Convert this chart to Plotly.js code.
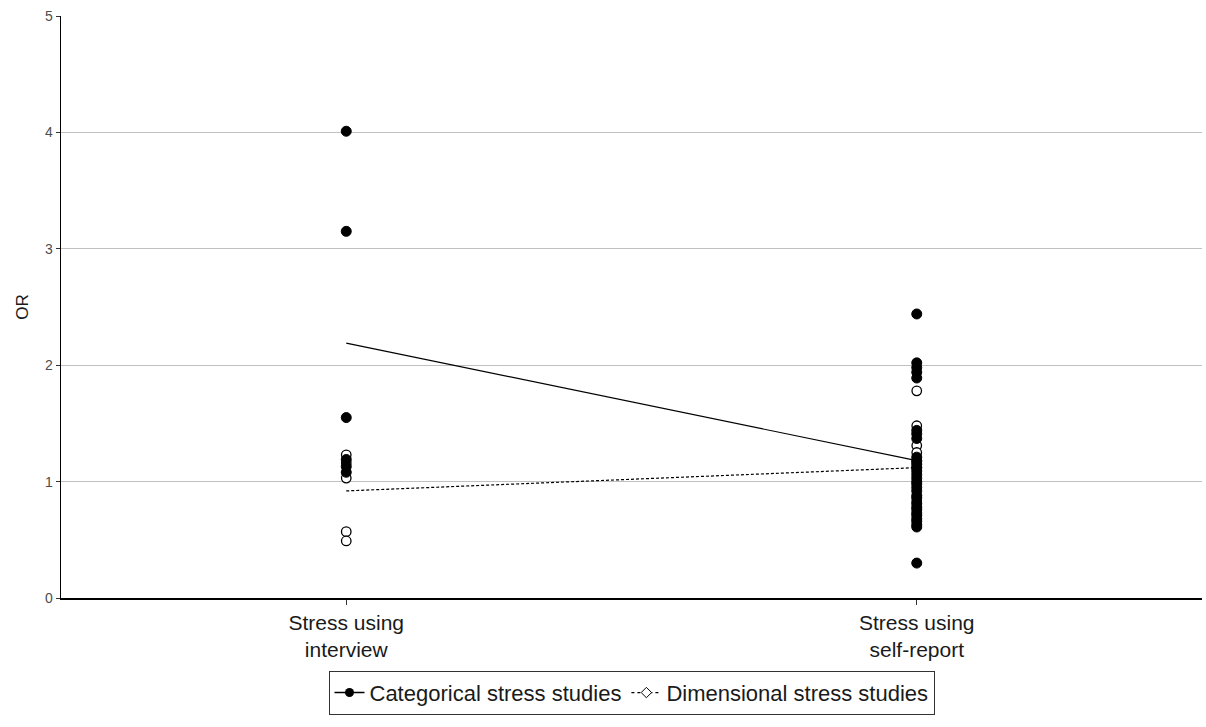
<!DOCTYPE html>
<html>
<head>
<meta charset="utf-8">
<script src="https://cdn.plot.ly/plotly-3.0.1.min.js"></script>
<style>html,body{margin:0;padding:0;background:#fff;}#chart{width:1206px;height:727px;}</style>
</head>
<body>
<div id="chart"></div>
<script>
// Categories (x axis)
const categories = ['Stress using<br>interview', 'Stress using<br>self-report'];

// Individual study ORs, categorical stress studies
const interviewCategorical = [4.01, 3.15, 1.55, 1.19, 1.13, 1.08];
const selfReportCategorical = [2.44, 2.02, 1.98, 1.94, 1.89, 1.44, 1.41, 1.37, 1.21, 1.18, 1.15, 1.12, 1.09, 1.06, 1.03, 1.00, 0.98, 0.95, 0.92, 0.88, 0.86, 0.81, 0.78, 0.76, 0.73, 0.71, 0.68, 0.66, 0.63, 0.61, 0.30];

// Individual study ORs, dimensional stress studies
const interviewDimensional = [1.23, 1.16, 1.03, 0.57, 0.49];
const selfReportDimensional = [1.78, 1.48, 1.31, 1.25, 1.17, 1.12, 0.83];

// Summary lines
const categoricalLine = [2.19, 1.18];
const dimensionalLine = [0.92, 1.12];

const seriesNames = ['Categorical stress studies', 'Dimensional stress studies'];
const yTicks = [0, 1, 2, 3, 4, 5];

function rep(cat, n) { return Array(n).fill(cat); }

const filledMarker = {symbol: 'circle', size: 10, color: '#000000', line: {color: '#000000', width: 1}};
const openMarker = {symbol: 'circle', size: 9.5, color: '#ffffff', line: {color: '#000000', width: 1.3}};

const traces = [
  {x: categories, y: categoricalLine, mode: 'lines', line: {color: '#000', width: 1.2}, showlegend: false, hoverinfo: 'skip'},
  {x: categories, y: dimensionalLine, mode: 'lines', line: {color: '#000', width: 1.2, dash: '3px,2px'}, showlegend: false, hoverinfo: 'skip'},
  {x: rep(categories[0], interviewDimensional.length).concat(rep(categories[1], selfReportDimensional.length)),
   y: interviewDimensional.concat(selfReportDimensional), mode: 'markers', marker: openMarker, showlegend: false},
  {x: rep(categories[0], interviewCategorical.length).concat(rep(categories[1], selfReportCategorical.length)),
   y: interviewCategorical.concat(selfReportCategorical), mode: 'markers', marker: filledMarker, showlegend: false},
  // legend entries
  {x: [null], y: [null], mode: 'lines+markers', name: seriesNames[0], line: {color: '#000', width: 1.5},
   marker: {symbol: 'circle', size: 9, color: '#000'}},
  {x: [null], y: [null], mode: 'lines+markers', name: seriesNames[1], line: {color: '#000', width: 1.2, dash: 'dot'},
   marker: {symbol: 'diamond', size: 8, color: '#fff', line: {color: '#000', width: 1}}}
];

const layout = {
  width: 1206, height: 727,
  margin: {l: 61, r: 4, t: 16, b: 129},
  paper_bgcolor: '#ffffff', plot_bgcolor: '#ffffff',
  font: {family: 'Liberation Sans, Arial, sans-serif', color: '#1a1a1a'},
  xaxis: {
    type: 'category', categoryorder: 'array', categoryarray: categories,
    range: [-0.5, 1.5], showgrid: false, zeroline: false,
    showline: true, linecolor: '#000', linewidth: 1.5,
    ticks: 'outside', ticklen: 5, tickcolor: '#333', tickwidth: 1,
    tickfont: {size: 21, color: '#1a1a1a'}
  },
  yaxis: {
    range: [0, 5], tickvals: yTicks, ticktext: yTicks.map(String),
    showgrid: true, gridcolor: '#c0c0c0', gridwidth: 1, zeroline: false,
    showline: true, linecolor: '#000', linewidth: 1.5,
    ticks: 'outside', ticklen: 4, tickcolor: '#333', tickwidth: 1,
    tickfont: {size: 14, color: '#4d4d4d'},
    title: {text: 'OR', font: {size: 17, color: '#1a1a1a'}, standoff: 12}
  },
  legend: {
    orientation: 'h', x: 0.5, xanchor: 'center', y: -0.125, yanchor: 'top',
    bordercolor: '#333', borderwidth: 1, bgcolor: '#fff',
    font: {size: 22, color: '#1a1a1a'}, itemwidth: 30
  },
  showlegend: true
};

Plotly.newPlot('chart', traces, layout, {displayModeBar: false, staticPlot: true});
</script>
</body>
</html>
